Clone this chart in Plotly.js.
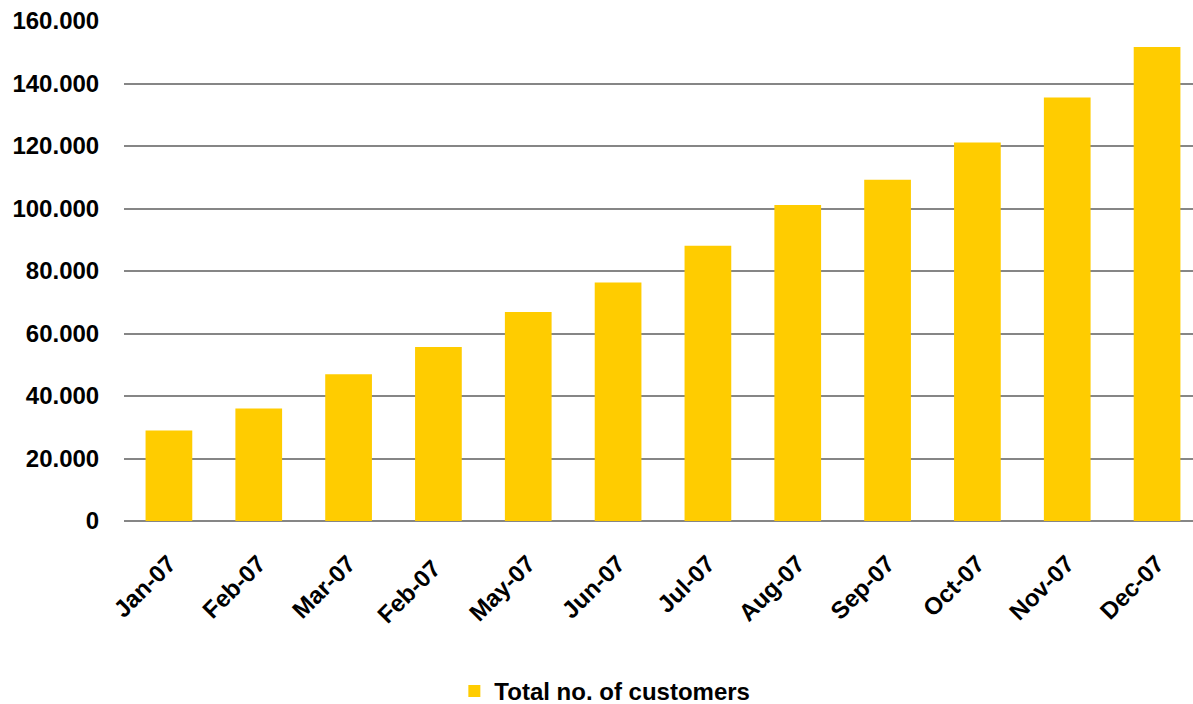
<!DOCTYPE html>
<html>
<head>
<meta charset="utf-8">
<script src="https://cdn.plot.ly/plotly-3.0.1.min.js"></script>
<style>html,body{margin:0;padding:0;background:#fff;}#chart{width:1193px;height:704px;}</style>
</head>
<body>
<div id="chart"></div>
<script>
const months = ["Jan-07","Feb-07","Mar-07","Feb-07 ","May-07","Jun-07","Jul-07","Aug-07","Sep-07","Oct-07","Nov-07","Dec-07"];
const customers = [29000, 36000, 47000, 55700, 66900, 76300, 88100, 101100, 109200, 121100, 135500, 151700];
const yTicks = [0, 20000, 40000, 60000, 80000, 100000, 120000, 140000, 160000];
const yTickLabels = ["0","20.000","40.000","60.000","80.000","100.000","120.000","140.000","160.000"];
const seriesName = "Total no. of customers";

const fontFam = "Liberation Sans, Arial, sans-serif";

const trace = {
  type: "bar",
  x: months.map((m, i) => i),
  y: customers,
  name: seriesName,
  marker: {color: "#FFCC00", line: {width: 0}},
  showlegend: true,
  hoverinfo: "skip"
};

const layout = {
  width: 1193, height: 704,
  margin: {l: 124, r: 0, t: 21, b: 183},
  paper_bgcolor: "#fff", plot_bgcolor: "#fff",
  bargap: 0.48,
  font: {family: fontFam, size: 24, color: "#000", weight: "bold"},
  xaxis: {
    range: [-0.5, 11.4],
    tickmode: "array",
    tickvals: months.map((m, i) => i),
    ticktext: months,
    tickangle: -45,
    tickfont: {family: fontFam, size: 24, color: "#000", weight: "bold"},
    ticks: "outside", ticklen: 18, tickcolor: "rgba(0,0,0,0)",
    showgrid: false, zeroline: false, showline: false,
    fixedrange: true
  },
  yaxis: {
    range: [0, 160000],
    tickmode: "array",
    tickvals: yTicks,
    ticktext: yTickLabels,
    tickfont: {family: fontFam, size: 24, color: "#000", weight: "bold"},
    ticks: "outside", ticklen: 19, tickcolor: "rgba(0,0,0,0)",
    showgrid: true, gridcolor: "#868686", gridwidth: 2,
    zeroline: true, zerolinecolor: "#868686", zerolinewidth: 2,
    showline: false,
    fixedrange: true
  },
  showlegend: true,
  legend: {
    orientation: "h",
    x: 0.507, xanchor: "center", xref: "container",
    y: 0.018, yanchor: "middle", yref: "container",
    font: {family: fontFam, size: 24, color: "#000", weight: "bold"},
    bgcolor: "rgba(0,0,0,0)"
  }
};

Plotly.newPlot("chart", [trace], layout, {displayModeBar: false, staticPlot: true});
</script>
</body>
</html>
